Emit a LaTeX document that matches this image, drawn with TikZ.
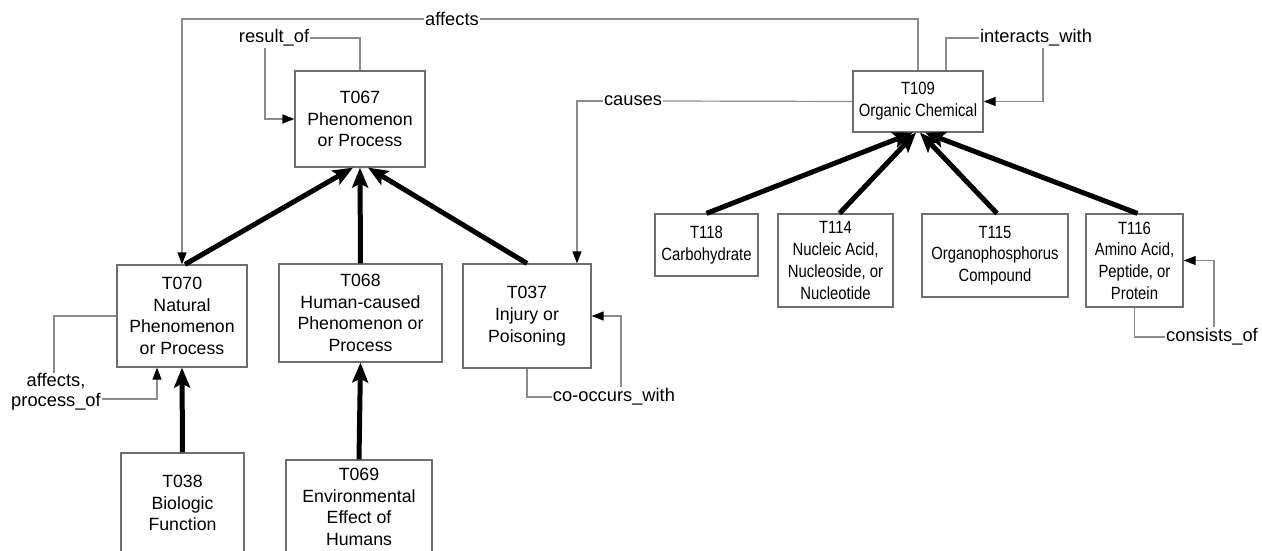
\documentclass[tikz,border=0pt]{standalone}
\usepackage{fontspec}
\setmainfont{Liberation Sans}
\newfontfamily\narrowfont[FakeStretch=0.84]{Liberation Sans}
\usetikzlibrary{arrows.meta,calc}

\definecolor{boxgray}{RGB}{110,110,110}
\definecolor{linkgray}{RGB}{140,140,140}

\begin{document}
\begin{tikzpicture}[x=1pt,y=-1pt,
  box/.style={draw=boxgray, line width=1.2pt, inner sep=0pt, align=center,
    font=\fontsize{17.7}{21.7}\selectfont},
  nbox/.style={box, font=\narrowfont\fontsize{17.7}{21.7}\selectfont},
  rlabel/.style={inner sep=1pt, align=center, font=\fontsize{18.3}{19.5}\selectfont},
  link/.style={draw=linkgray, line width=1.2pt},
  linkarrow/.style={link, -{Triangle[length=12pt,width=9pt,color=black]}},
  isa/.style={line width=5pt, -{Stealth[length=20pt,width=16pt,inset=4pt]}}]

\useasboundingbox (0,0) rectangle (1262,551);
\clip (0,0) rectangle (1262,551);

% semantic type boxes
\node[box, minimum width=130pt, minimum height=96pt]  (t067) at (360,119)   {T067\\Phenomenon\\or Process};
\node[box, minimum width=130pt, minimum height=102pt] (t070) at (182,316)   {T070\\Natural\\Phenomenon\\or Process};
\node[box, minimum width=163pt, minimum height=98pt]  (t068) at (360.5,313) {T068\\Human-caused\\Phenomenon or\\Process};
\node[box, minimum width=128pt, minimum height=104pt] (t037) at (527,316)   {T037\\Injury or\\Poisoning};
\node[box, minimum width=123pt, minimum height=100pt] (t038) at (182.5,503) {T038\\Biologic\\Function};
\node[box, minimum width=146pt, minimum height=94pt]  (t069) at (359,507)   {T069\\Environmental\\Effect of\\Humans};

\node[nbox, minimum width=130pt, minimum height=61pt] (t109) at (918,101.5)  {T109\\Organic Chemical};
\node[nbox, minimum width=103pt, minimum height=62pt] (t118) at (706.5,245)  {T118\\Carbohydrate};
\node[nbox, minimum width=115pt, minimum height=93pt] (t114) at (835.5,260.5) {T114\\Nucleic Acid,\\Nucleoside, or\\Nucleotide};
\node[nbox, minimum width=146pt, minimum height=83pt] (t115) at (995,255.5)  {T115\\Organophosphorus\\Compound};
\node[nbox, minimum width=97pt, minimum height=93pt]  (t116) at (1134.5,260.5) {T116\\Amino Acid,\\Peptide, or\\Protein};

% relation labels
\node[rlabel] (affects)  at (452,19)   {affects};
\node[rlabel] (resultof) at (274,38)   {result\_of};
\node[rlabel] (causes)   at (633,101)  {causes};
\node[rlabel] (interacts) at (1036,38) {interacts\_with};
\node[rlabel] (cooccurs) at (614,397)  {co-occurs\_with};
\node[rlabel] (procof)   at (56,392)   {affects,\\process\_of};
\node[rlabel] (consists) at (1212,337) {consists\_of};

% isa hierarchy
\draw[isa] ([xshift=3pt]t070.north) -- ([xshift=-7pt]t067.south);
\draw[isa] (t068.north) -- (t067.south);
\draw[isa] (t037.north) -- ([xshift=8pt]t067.south);
\draw[isa] (t038.north) -- (t070.south);
\draw[isa] (t069.north) -- (t068.south);
\draw[isa] (t118.north) -- ([xshift=-5pt]t109.south);
\draw[isa] ([xshift=4pt]t114.north) -- ([xshift=-2pt]t109.south);
\draw[isa] ([xshift=2pt]t115.north) -- ([xshift=2pt]t109.south);
\draw[isa] ([xshift=3pt]t116.north) -- ([xshift=7pt]t109.south);

% named relations
\draw[link] (t109.north) |- (affects.east);
\draw[linkarrow] (affects.west) -| (t070.north);

\draw[link] (t067.north) |- (resultof.east);
\draw[linkarrow] ([xshift=-9pt]resultof.south) |- (t067.west);

\draw[link] (t109.west) -- (causes.east);
\draw[linkarrow] (causes.west) -| ([xshift=50pt]t037.north);

\draw[link] ([xshift=28pt]t109.north) |- (interacts.west);
\draw[linkarrow] ([xshift=7pt]interacts.south) |- (t109.east);

\draw[link] (t037.south) |- (cooccurs.west);
\draw[linkarrow] ([xshift=7pt]cooccurs.north) |- (t037.east);

\draw[link] (t070.west) -| ([xshift=-2pt]procof.north);
\draw[linkarrow] (procof.east |- 0,399) -| ([xshift=-25pt]t070.south);

\draw[link] (t116.south) |- (consists.west);
\draw[linkarrow] ([xshift=2pt]consists.north) |- (t116.east);

\end{tikzpicture}
\end{document}
